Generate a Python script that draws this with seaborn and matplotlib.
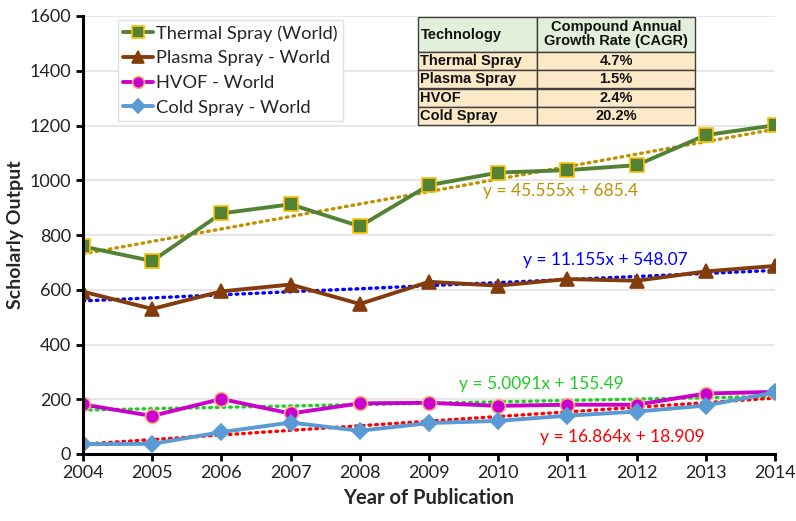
import numpy as np
import pandas as pd
import matplotlib
matplotlib.use("Agg")
import matplotlib.pyplot as plt
import seaborn as sns

years = [2004, 2005, 2006, 2007, 2008, 2009, 2010, 2011, 2012, 2013, 2014]
thermal = [758, 705, 879, 912, 832, 982, 1028, 1037, 1055, 1165, 1201]
plasma = [593, 530, 594, 619, 548, 629, 615, 639, 633, 667, 687]
hvof = [181, 139, 201, 148, 185, 187, 176, 180, 180, 221, 227]
cold = [36, 37, 80, 115, 85, 113, 121, 140, 155, 177, 225]
series_names = ["Thermal Spray (World)", "Plasma Spray - World", "HVOF - World", "Cold Spray - World"]
trend_slopes = [45.555, 11.155, 5.0091, 16.864]
trend_intercepts = [685.4, 548.07, 155.49, 18.909]
trend_labels = ["y = 45.555x + 685.4", "y = 11.155x + 548.07", "y = 5.0091x + 155.49", "y = 16.864x + 18.909"]
table_tech = ["Thermal Spray", "Plasma Spray", "HVOF", "Cold Spray"]
table_cagr = ["4.7%", "1.5%", "2.4%", "20.2%"]

sns.set_theme(style="white")
plt.rcParams['font.family'] = ['Lato', 'DejaVu Sans']

fig = plt.figure(figsize=(7.96, 5.21), dpi=100)
ax = fig.add_axes([83/796, 67/521, (775-83)/796, (454-16)/521])

line_colors = ["#548235", "#843C0C", "#CC00CC", "#5B9BD5"]
marker_faces = ["#548235", "#843C0C", "#CC00CC", "#5B9BD5"]
marker_edges = ["#FFC000", "#843C0C", "#F4B183", "#5B9BD5"]
markers = ["s", "^", "o", "D"]
msizes = [10, 10, 10, 8]
trend_colors = ["#BF9000", "#0000FF", "#22CC22", "#FF0000"]

data = [thermal, plasma, hvof, cold]
x_idx = np.arange(1, len(years) + 1)

for m, b, c in zip(trend_slopes, trend_intercepts, trend_colors):
    sns.lineplot(x=years, y=m * x_idx + b, ax=ax, color=c, linewidth=2.4,
                 linestyle=(0, (0.5, 1.5)), dash_capstyle="round", legend=False)

handles = []
for vals, name, lc, mf, me, mk, ms in zip(data, series_names, line_colors, marker_faces,
                                           marker_edges, markers, msizes):
    sns.lineplot(x=years, y=vals, ax=ax, color=lc, linewidth=2.8, marker=mk,
                 markersize=ms, markerfacecolor=mf, markeredgecolor=me,
                 markeredgewidth=1.2, label=name, legend=False)
    handles.append(ax.lines[-1])

ax.set_xlim(2004, 2014)
ax.set_ylim(0, 1600)
ax.set_xticks(years)
ax.set_yticks(range(0, 1601, 200))
ax.yaxis.grid(True, color="#E3E3E3", linewidth=1.2)
ax.set_axisbelow(True)
for s in ["top", "right"]:
    ax.spines[s].set_visible(False)
for s in ["left", "bottom"]:
    ax.spines[s].set_color("black")
    ax.spines[s].set_linewidth(2.2)
ax.tick_params(axis="both", which="major", direction="out", length=5, width=2,
               color="black", labelsize=13, labelcolor="#222222", bottom=True, left=True)
ax.tick_params(axis="x", pad=3)
ax.set_xlabel("Year of Publication", fontsize=14.5, fontweight="bold", labelpad=5)
ax.set_ylabel("Scholarly Output", fontsize=14, fontweight="bold", labelpad=4)

leg = ax.legend(handles=handles, labels=series_names, loc="upper left",
                bbox_to_anchor=(0.045, 1.0), frameon=True, fontsize=13.2,
                handlelength=1.6, labelspacing=0.47, borderpad=0.3,
                handletextpad=0.2, borderaxespad=0.2, markerscale=0.85)
leg.get_frame().set_edgecolor("#E0E0E0")
leg.get_frame().set_linewidth(1.0)
leg.get_frame().set_facecolor("white")
leg.get_frame().set_alpha(1.0)
leg.get_frame().set_boxstyle("square", pad=0)

text_pos_x = [2010.9, 2011.55, 2010.63, 2011.8]
text_pos_y = [962, 708, 256, 62]
for tx, ty, lbl, c in zip(text_pos_x, text_pos_y, trend_labels, trend_colors):
    ax.text(tx, ty, lbl, color=c, fontsize=12.5, ha="center", va="center")

cell_text = [["Technology", "Compound Annual\nGrowth Rate (CAGR)"]] + \
            [[t, g] for t, g in zip(table_tech, table_cagr)]
x0 = (418 - 83) / 692
x1 = (695 - 83) / 692
y_top = (454 - 17) / 438
y_bot = (454 - 125) / 438
tab = ax.table(cellText=cell_text, bbox=[x0, y_bot, x1 - x0, y_top - y_bot],
               colWidths=[119 / 277, 158 / 277], cellLoc="left", zorder=5)
tab.auto_set_font_size(False)
header_h = 35
row_h = (108 - header_h) / 4
total = 108
for (r, c), cell in tab.get_celld().items():
    cell.set_edgecolor("#404040")
    cell.set_linewidth(1.0)
    if r == 0:
        cell.set_height(header_h / total)
        cell.set_facecolor("#E2EFDA")
    else:
        cell.set_height(row_h / total)
        cell.set_facecolor("#FCE9C8")
    txt = cell.get_text()
    txt.set_fontsize(10.5)
    txt.set_fontweight("bold")
    txt.set_fontfamily(["Liberation Sans", "DejaVu Sans"])
    txt.set_color("#111111")
    txt.set_linespacing(1.0)
    if c == 1:
        txt.set_ha("center")
        cell._loc = "center"
    cell.PAD = 0.02

fig.savefig("out.png", dpi=100)
